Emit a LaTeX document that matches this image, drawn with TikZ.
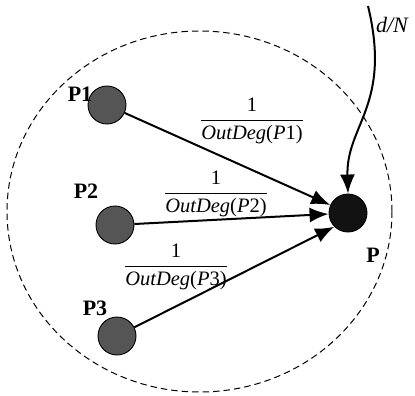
\documentclass[tikz,border=0pt]{standalone}
\usepackage{fontspec}
\setmainfont{Liberation Serif}
\usetikzlibrary{arrows.meta}
\definecolor{nodegray}{HTML}{555555}
\definecolor{nodeblack}{HTML}{121212}
\tikzset{
  peer/.style={circle, draw=black, fill=nodegray, minimum size=38pt, inner sep=0pt, line width=0.9pt},
  target/.style={peer, fill=nodeblack},
  lbl/.style={inner sep=0pt, font=\bfseries\fontsize{22}{22}\selectfont},
  frac/.style={inner sep=0pt, font=\fontsize{20.5}{20.5}\selectfont},
  link/.style={line width=2pt, -{Latex[length=19pt,width=15pt]}},
}
\newcommand{\odfrac}[1]{$\displaystyle\frac{\mbox{1}}{\mbox{\itshape OutDeg\upshape(\itshape P\upshape #1)}}$}
\begin{document}
\begin{tikzpicture}[x=1pt,y=-1pt]
\useasboundingbox (0,0) rectangle (415,396);
\draw[line width=1pt, dash pattern=on 6.5pt off 4pt] (199.5,211.5) ellipse [x radius=192.5, y radius=180.5];
\node[peer] (P1) at (107,105) {};
\node[peer] (P2) at (115,225) {};
\node[peer] (P3) at (117,336) {};
\node[target] (P) at (348,213) {};
\node[lbl] (L1) at (80,94) {P1};
\node[lbl] (L2) at (86,191) {P2};
\node[lbl] (L3) at (95,308) {P3};
\node[lbl] (LP) at (373,255) {P};
\node[inner sep=0pt, font=\itshape\fontsize{22}{22}\selectfont] (dn) at (392,25) {d/N};
\node[frac] (F1) at (252,121) {\odfrac{1}};
\node[frac] (F2) at (216,194) {\odfrac{2}};
\node[frac] (F3) at (176,267) {\odfrac{3}};
\coordinate (src) at (368,6);
\draw[link] (P1) -- (P);
\draw[link] (P2) -- (P);
\draw[link] (P3) -- (P.225);
\draw[link] (src) .. controls (392,105) and (346,125) .. (P.north);
\end{tikzpicture}
\end{document}
